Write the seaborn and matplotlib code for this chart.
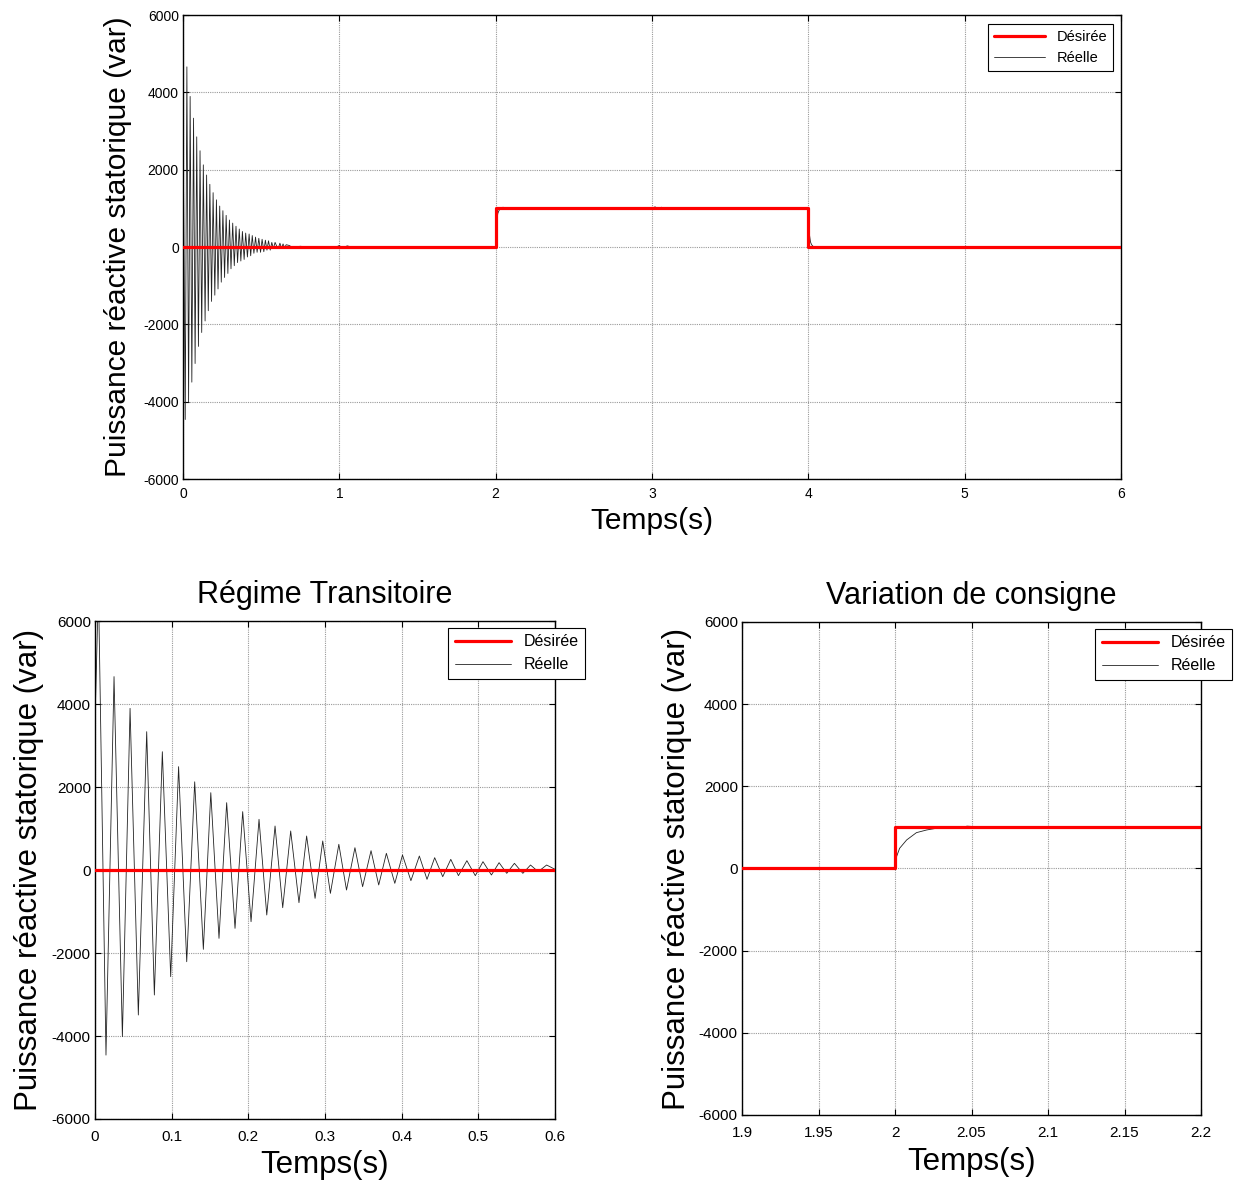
import numpy as np
import pandas as pd
import matplotlib
matplotlib.use("Agg")
import matplotlib.pyplot as plt
import seaborn as sns

# consigne (setpoint) in var
t_ref = [0, 2, 2, 4, 4, 6]
q_ref = [0, 0, 1000, 1000, 0, 0]

t_trans = [0.0, 0.0045, 0.0143, 0.0248, 0.0357, 0.0457, 0.0565, 0.0674, 0.0774, 0.0878,
           0.0987, 0.109, 0.1196, 0.130, 0.1413, 0.151, 0.1617, 0.1717, 0.1826, 0.1926,
           0.2035, 0.2139, 0.224, 0.2348, 0.2448, 0.2552, 0.266, 0.276, 0.287, 0.297,
           0.307, 0.318, 0.328, 0.339, 0.349, 0.36, 0.37, 0.38, 0.391, 0.401,
           0.412, 0.423, 0.433, 0.443, 0.4535, 0.464, 0.474, 0.485, 0.496, 0.506,
           0.517, 0.527, 0.537, 0.547, 0.558, 0.568, 0.578, 0.589, 0.6]
q_trans = [3600, 6800, -4460, 4660, -4016, 3895, -3494, 3333, -3012, 2850,
           -2570, 2490, -2210, 2125, -1912, 1863, -1647, 1622, -1406, 1406,
           -1245, 1221, -1084, 1060, -908, 940, -787, 819, -683, 699,
           -562, 619, -482, 538, -402, 466, -361, 402, -321, 361,
           -257, 337, -225, 297, -161, 257, -136, 225, -136, 201,
           -120, 177, -80, 161, -80, 120, -40, 120, 16]

# settling + small disturbances until the step
t_settle = [0.61, 0.62, 0.63, 0.64, 0.65, 0.66, 0.68, 0.70, 0.75, 0.8, 0.98,
            1.0, 1.02, 1.05, 1.1, 1.15, 1.2, 2.0]
q_settle = [-30, 100, -30, 80, -20, 60, 40, -10, 20, 0, 0,
            40, -30, 30, -20, 10, 0, 0]

# step up at 2 s, ripple at 3 s, step down at 4 s
t_step = [2.001, 2.003, 2.0076, 2.014, 2.0207, 2.0294, 2.0403, 2.044, 2.047, 2.06,
          2.1, 2.2, 3.0, 3.02, 3.04, 3.06, 3.08, 3.1, 4.0,
          4.001, 4.003, 4.008, 4.014, 4.021, 4.03, 4.04, 6.0]
q_step = [287, 491, 694, 872, 937, 993, 1017, 993, 1030, 1000,
          1005, 1000, 1000, 1040, 970, 1030, 980, 1000, 1000,
          720, 510, 300, 130, 60, 20, 0, 0]

ylabel = "Puissance réactive statorique (var)"
xlabel = "Temps(s)"

df_ref = pd.DataFrame({"t": t_ref, "q": q_ref})
df_real = pd.DataFrame({"t": t_trans + t_settle + t_step,
                        "q": q_trans + q_settle + q_step})

sns.set_style("white")
plt.rcParams["font.family"] = ["Liberation Sans", "DejaVu Sans"]
plt.rcParams["axes.unicode_minus"] = False
plt.rcParams["text.color"] = "black"
plt.rcParams["axes.labelcolor"] = "black"

fig = plt.figure(figsize=(12.34, 11.84), dpi=100)
ax_top = fig.add_axes([0.1483, 0.5954, 0.7601, 0.3919])
ax_bl = fig.add_axes([0.0770, 0.0549, 0.3728, 0.4206])
ax_br = fig.add_axes([0.6013, 0.0583, 0.3720, 0.4164])


def draw(ax, real, xlim, xticks, tick_fs, xpad, lab_fs, xlpad, ylpad, leg_fs, leg_anchor):
    sns.lineplot(data=df_ref, x="t", y="q", ax=ax, color="#ff0000", linewidth=2.3,
                 estimator=None, sort=False, label="Désirée", zorder=3)
    sns.lineplot(data=real, x="t", y="q", ax=ax, color="#222222", linewidth=0.6,
                 estimator=None, sort=False, label="Réelle", zorder=2)
    ax.set_xlim(xlim)
    ax.set_ylim(-6000, 6000)
    ax.set_xticks(xticks)
    ax.set_xticklabels([f"{v:g}" for v in xticks])
    ax.set_yticks(range(-6000, 6001, 2000))
    ax.grid(True, color="#9a9a9a", linestyle=(0, (1, 1)), linewidth=0.8)
    ax.tick_params(direction="in", bottom=True, left=True, top=True, right=True,
                   length=4, width=0.8, labelsize=tick_fs, pad=3, colors="black")
    ax.tick_params(axis="x", pad=xpad)
    for sp in ax.spines.values():
        sp.set_visible(True)
        sp.set_color("black")
        sp.set_linewidth(1.0)
    ax.set_xlabel(xlabel, fontsize=lab_fs, labelpad=xlpad)
    ax.set_ylabel(ylabel, fontsize=lab_fs, labelpad=ylpad)
    leg = ax.legend(loc="upper right", bbox_to_anchor=leg_anchor,
                    bbox_transform=fig.transFigure, borderaxespad=0,
                    fancybox=False, framealpha=1, edgecolor="black",
                    fontsize=leg_fs, handlelength=3.5)
    leg.get_frame().set_linewidth(0.8)


# the top overview was sampled more coarsely, the first spike is not visible there
draw(ax_top, df_real[df_real["q"] < 5000], (0, 6), [0, 1, 2, 3, 4, 5, 6],
     10, 6, 21.5, 4, 8, 10.5, (1113 / 1234, 1 - 24 / 1184))
draw(ax_bl, df_real, (0, 0.6), [0, 0.1, 0.2, 0.3, 0.4, 0.5, 0.6],
     11, 8, 22.5, 4, 6, 11.5, (585 / 1234, 1 - 628 / 1184))
draw(ax_br, df_real, (1.9, 2.2), [1.9, 1.95, 2, 2.05, 2.1, 2.15, 2.2],
     11, 8, 22.5, 5, 5, 11.5, (1232 / 1234, 1 - 629 / 1184))

ax_bl.set_title("Régime Transitoire", fontsize=22, pad=13)
ax_br.set_title("Variation de consigne", fontsize=22, pad=13)

fig.savefig("out.png", dpi=100)
